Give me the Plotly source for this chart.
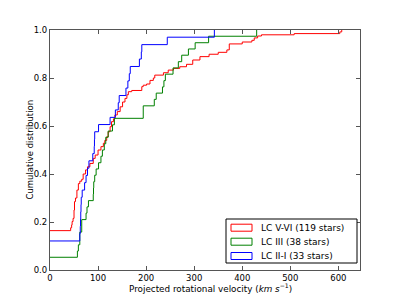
import plotly.graph_objects as go

# ---- data ----
v_red = [0, 43, 45, 46, 48, 50, 51, 53, 56, 59, 62, 66, 69, 74, 78, 83, 90, 94, 100, 106,
         111, 114, 118, 121, 125, 128, 132, 135, 140, 146, 151, 156, 160, 163, 170, 191, 194, 201, 208, 215,
         218, 236, 246, 257, 270, 284, 297, 312, 331, 350, 368, 373, 400, 420, 425, 432, 440, 508, 603, 607]
f_red = [0.164, 0.176, 0.188, 0.202, 0.215, 0.25, 0.285, 0.30, 0.333, 0.36, 0.37, 0.378, 0.40, 0.417, 0.43, 0.444, 0.465, 0.479, 0.50, 0.514,
         0.528, 0.54, 0.555, 0.576, 0.597, 0.618, 0.63, 0.646, 0.66, 0.68, 0.70, 0.715, 0.73, 0.743, 0.748, 0.764, 0.77, 0.775, 0.79, 0.80,
         0.812, 0.822, 0.833, 0.84, 0.847, 0.857, 0.875, 0.889, 0.899, 0.907, 0.917, 0.942, 0.95, 0.957, 0.967, 0.975, 0.98, 0.985, 0.992, 1.0]

v_green = [0, 57, 59, 62, 66, 75, 77, 80, 90, 90.5, 91, 93, 96, 101, 106, 109, 113, 116, 121, 130,
           134, 194, 217, 221, 234, 237, 240, 256, 267, 274, 288, 302, 330, 430]
f_green = [0.053, 0.079, 0.105, 0.158, 0.21, 0.237, 0.263, 0.289, 0.316, 0.342, 0.368, 0.395, 0.421, 0.447, 0.474, 0.5, 0.526, 0.553, 0.579, 0.605,
           0.632, 0.684, 0.711, 0.737, 0.763, 0.789, 0.816, 0.842, 0.868, 0.895, 0.921, 0.947, 0.974, 1.0]

v_blue = [0, 62, 63, 63.5, 64, 64.5, 65, 67, 72, 75, 78, 81, 89, 92, 92.5, 93, 101, 125, 136, 142,
          144, 158, 162, 165, 167, 186, 190, 191, 244, 342]
f_blue = [0.121, 0.152, 0.182, 0.212, 0.242, 0.273, 0.303, 0.333, 0.364, 0.394, 0.424, 0.455, 0.485, 0.515, 0.545, 0.576, 0.606, 0.636, 0.667, 0.697,
          0.727, 0.758, 0.788, 0.818, 0.848, 0.879, 0.909, 0.939, 0.970, 1.0]

series_names = ["LC V-VI (119 stars)", "LC III (38 stars)", "LC II-I (33 stars)"]
series_colors = ["#ff0000", "#008000", "#0000ff"]
x_ticks = [0, 100, 200, 300, 400, 500, 600]
y_ticks = [0.0, 0.2, 0.4, 0.6, 0.8, 1.0]
x_title = "Projected rotational velocity (<i>km s</i><sup>−1</sup>)"
y_title = "Cumulative distribution"

FONT = "DejaVu Sans"
FS = 8.5

fig = go.Figure()
for xs, ys, name, col in zip([v_red, v_green, v_blue], [f_red, f_green, f_blue], series_names, series_colors):
    fig.add_trace(go.Scatter(x=xs, y=ys, mode="lines", line=dict(color=col, width=1, shape="hv"),
                             name=name, showlegend=False))

axis_common = dict(showline=True, linecolor="#555555", linewidth=1.2, mirror="ticks",
                   ticks="inside", ticklen=4, tickcolor="#555555", tickwidth=1,
                   showgrid=False, zeroline=False, tickfont=dict(family=FONT, size=FS, color="black"))

fig.update_layout(
    width=400, height=300,
    margin=dict(l=50, r=40, t=30, b=30),
    paper_bgcolor="white", plot_bgcolor="white",
    font=dict(family=FONT, size=FS, color="black"),
    xaxis=dict(range=[0, 645], tickvals=x_ticks, ticktext=[str(t) for t in x_ticks], **axis_common),
    yaxis=dict(range=[0, 1], tickvals=y_ticks, ticktext=[f"{t:.1f}" for t in y_ticks], **axis_common),
)

def px2paper(px, py):
    return (px - 50) / 310.0, (270 - py) / 240.0

# axis titles placed as in the reference
tx, ty = px2paper(210, 287.5)
fig.add_annotation(xref="paper", yref="paper", x=tx, y=ty, text=x_title, showarrow=False,
                   xanchor="center", yanchor="middle", font=dict(family=FONT, size=FS + 0.3, color="black"))
tx, ty = px2paper(29.5, 150)
fig.add_annotation(xref="paper", yref="paper", x=tx, y=ty, text=y_title, showarrow=False, textangle=-90,
                   xanchor="center", yanchor="middle", font=dict(family=FONT, size=FS, color="black"))

# ---- manual legend (matplotlib-style patches) ----
bx0, by0 = px2paper(226, 263)
bx1, by1 = px2paper(357, 219)
fig.add_shape(type="rect", xref="paper", yref="paper", x0=bx0, y0=by0, x1=bx1, y1=by1,
              line=dict(color="black", width=1), fillcolor="white", layer="above")
rows_py = [227.7, 241.7, 256]
for py, name, col in zip(rows_py, series_names, series_colors):
    px0, py0 = px2paper(231, py + 3.5)
    px1, py1 = px2paper(252, py - 3.5)
    fig.add_shape(type="rect", xref="paper", yref="paper", x0=px0, y0=py0, x1=px1, y1=py1,
                  line=dict(color=col, width=1), fillcolor="white", layer="above")
    tx, ty = px2paper(259, py)
    fig.add_annotation(xref="paper", yref="paper", x=tx, y=ty, text=name, showarrow=False,
                       xanchor="left", yanchor="middle", font=dict(family=FONT, size=FS + 0.5, color="black"))

fig.write_html("out.html", config={"displayModeBar": False},
               post_script="document.body.style.margin='0';document.body.style.overflow='hidden';")
